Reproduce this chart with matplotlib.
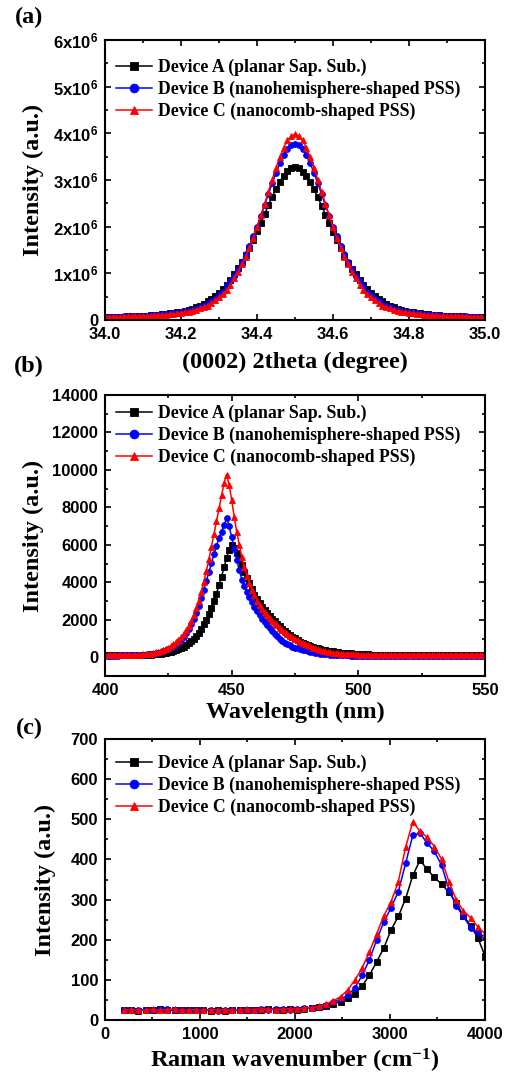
import numpy as np
import matplotlib
matplotlib.use("Agg")
import matplotlib.pyplot as plt
from matplotlib.ticker import MultipleLocator, FuncFormatter
from matplotlib.font_manager import FontProperties

plt.rcParams['mathtext.default'] = 'regular'

# ---------------- data ----------------
labels = ["Device A (planar Sap. Sub.)",
          "Device B (nanohemisphere-shaped PSS)",
          "Device C (nanocomb-shaped PSS)"]
colors = ["#000000", "#0000FF", "#FF0000"]
markers = ["s", "o", "^"]

# (a) XRD (0002) 2theta scan, 34.0 -> 35.0 deg, intensity in units of 1e6
xrd_range = (34.0, 35.0)
xrd_A = [0.062,0.064,0.066,0.068,0.070,0.073,0.076,0.079,0.082,0.086,
         0.090,0.095,0.100,0.105,0.110,0.120,0.130,0.140,0.150,0.165,
         0.180,0.200,0.220,0.240,0.270,0.310,0.350,0.400,0.450,0.510,
         0.580,0.660,0.750,0.860,0.980,1.110,1.240,1.390,1.550,1.720,
         1.900,2.080,2.270,2.460,2.640,2.810,2.960,3.090,3.190,3.250,
         3.270,
         3.250,3.180,3.080,2.950,2.800,2.630,2.450,2.260,2.070,1.890,
         1.710,1.540,1.380,1.230,1.100,0.980,0.860,0.750,0.660,0.580,
         0.510,0.450,0.400,0.350,0.310,0.270,0.240,0.220,0.200,0.180,
         0.165,0.150,0.140,0.130,0.120,0.110,0.105,0.100,0.095,0.090,
         0.086,0.082,0.079,0.076,0.073,0.070,0.068,0.066,0.064,0.062]
xrd_B = [0.068,0.069,0.070,0.072,0.074,0.076,0.078,0.081,0.084,0.087,
         0.090,0.095,0.100,0.105,0.110,0.118,0.125,0.135,0.145,0.155,
         0.170,0.180,0.200,0.220,0.240,0.270,0.300,0.350,0.400,0.460,
         0.530,0.600,0.720,0.830,0.950,1.090,1.240,1.410,1.590,1.790,
         2.000,2.230,2.460,2.700,2.930,3.150,3.360,3.530,3.670,3.750,
         3.780,
         3.750,3.670,3.530,3.360,3.150,2.930,2.700,2.460,2.230,2.000,
         1.790,1.590,1.410,1.240,1.090,0.950,0.830,0.720,0.600,0.530,
         0.460,0.400,0.350,0.300,0.270,0.240,0.220,0.200,0.180,0.170,
         0.155,0.145,0.135,0.125,0.118,0.110,0.105,0.100,0.095,0.090,
         0.087,0.084,0.081,0.078,0.076,0.074,0.072,0.070,0.069,0.068]
xrd_C = [0.071,0.072,0.073,0.074,0.075,0.076,0.078,0.080,0.082,0.084,
         0.087,0.090,0.095,0.100,0.105,0.110,0.115,0.120,0.130,0.140,
         0.150,0.165,0.180,0.200,0.220,0.250,0.270,0.310,0.360,0.420,
         0.490,0.560,0.650,0.760,0.900,1.030,1.190,1.360,1.550,1.760,
         1.990,2.240,2.490,2.750,3.010,3.260,3.490,3.690,3.850,3.940,
         3.980,
         3.940,3.850,3.690,3.490,3.260,3.010,2.750,2.490,2.240,1.990,
         1.760,1.550,1.360,1.190,1.030,0.900,0.760,0.650,0.560,0.490,
         0.420,0.360,0.310,0.270,0.250,0.220,0.200,0.180,0.165,0.150,
         0.140,0.130,0.120,0.115,0.110,0.105,0.100,0.095,0.090,0.087,
         0.084,0.082,0.080,0.078,0.076,0.075,0.074,0.073,0.072,0.071]

# (b) PL spectra, 400 -> 550 nm, 1 nm step
pl_range = (400, 550)
pl_A = [100,100,100,100,100,100,100,100,100,100,105,105,110,110,115,
        120,125,130,140,150,160,175,190,210,235,
        260,290,330,370,420,480,550,640,740,850,
        980,1130,1300,1500,1750,2000,2300,2650,3000,3400,
        3850,4300,4800,5300,5750,6000,5850,5550,5250,4900,
        4550,4250,3950,3650,3350,3100,2900,2700,2520,2350,
        2200,2050,1910,1780,1650,1530,1420,1310,1200,1100,
        1010,920,840,770,720,670,620,570,520,480,
        440,410,380,350,330,310,290,270,250,240,
        230,220,210,200,190,180,172,165,158,152,
        147,142,138,134,130,127,124,121,118,116,
        114,112,110,108,106,105,104,104,103,103,
        102,102,101,101,100,100,100,100,100,100,100,100,100,
        100,100,100,100,100,100,100,100,100,100,100,100,100]
pl_B = [90,90,90,90,90,90,95,95,95,100,100,105,110,115,120,
        130,140,155,170,190,215,245,280,320,370,
        430,500,580,680,800,940,1100,1290,1510,1760,
        2050,2380,2750,3160,3600,4070,4550,5030,5500,5950,
        6350,6700,7050,7430,7000,6400,5800,5200,4650,4150,
        3800,3500,3200,2950,2700,2450,2250,2050,1880,1740,
        1560,1400,1250,1110,980,870,780,700,630,570,
        520,480,440,400,365,330,300,270,245,220,
        200,185,170,157,145,135,125,118,112,106,
        100,96,92,88,85,82,80,78,76,75,
        74,73,72,71,70,70,70,70,70,70,
        70,70,70,70,70,70,70,70,70,70,
        70,70,70,70,70,70,70,70,70,70,70,70,70,
        70,70,70,70,70,70,70,70,70,70,70,70,70]
pl_C = [120,120,120,120,120,120,120,125,125,125,130,130,135,140,145,
        150,165,180,200,225,255,290,330,380,440,
        510,590,690,800,930,1080,1250,1450,1680,1950,
        2260,2620,3030,3500,4020,4600,5220,5880,6560,7250,
        7950,8650,9300,9750,9200,8400,7500,6700,6000,5350,
        4800,4350,3950,3600,3300,3030,2800,2600,2420,2250,
        2100,1960,1830,1700,1580,1470,1360,1260,1160,1070,
        990,910,840,770,700,640,580,520,470,420,
        380,345,315,290,265,245,228,213,200,190,
        180,172,165,158,152,147,143,139,136,133,
        131,129,127,125,124,123,122,121,121,120,
        120,120,120,120,120,120,120,120,120,120,
        120,120,120,120,120,120,120,120,120,120,120,120,120,
        120,120,120,120,120,120,120,120,120,120,120,120,120]

# (c) Raman spectra, 200 -> 4000 cm-1
raman_range = (200, 4000)
raman_A = [24,25,23,26,25,27,26,24,25,26,24,25,23,24,22,24,25,24,26,25,
           27,26,25,27,26,28,30,32,36,40,46,55,66,85,112,145,180,225,258,302,
           360,398,375,355,338,318,292,260,235,205,160]
raman_B = [26,24,25,24,26,28,27,25,26,24,25,26,25,23,24,25,26,25,25,27,
           26,27,28,26,28,29,31,33,38,44,52,62,80,112,150,200,245,280,320,390,
           460,466,440,420,385,325,285,258,230,218,207]
raman_C = [25,26,24,25,27,24,26,27,25,25,26,24,26,25,26,24,26,27,26,28,
           27,26,27,28,27,30,31,34,40,48,58,75,100,130,170,215,260,295,345,430,
           494,470,455,432,400,345,300,272,255,232,215]

# ---------------- style ----------------
SERIF = 'Liberation Serif'
SANS = 'Liberation Sans'
label_fp = FontProperties(family=SERIF, weight='bold', size=17.5)
tick_fp = FontProperties(family=SANS, weight='bold', size=12)
leg_fp = FontProperties(family=SERIF, weight='bold', size=12.8)

W, H = 506, 1074
fig = plt.figure(figsize=(W / 100, H / 100), dpi=100)


def add_ax(top_px, bottom_px, left_px=105, right_px=485):
    return fig.add_axes([left_px / W, 1 - bottom_px / H,
                         (right_px - left_px) / W, (bottom_px - top_px) / H])


def style(ax, xmaj, xmin, ymaj, ymin):
    ax.xaxis.set_major_locator(MultipleLocator(xmaj))
    ax.xaxis.set_minor_locator(MultipleLocator(xmin))
    ax.yaxis.set_major_locator(MultipleLocator(ymaj))
    ax.yaxis.set_minor_locator(MultipleLocator(ymin))
    ax.tick_params(which='both', direction='in', top=True, right=True,
                   width=1.2)
    ax.tick_params(which='major', length=4.5)
    ax.tick_params(which='minor', length=2.5)
    ax.tick_params(axis='x', which='major', pad=5)
    ax.tick_params(axis='y', which='major', pad=5)
    for sp in ax.spines.values():
        sp.set_linewidth(1.5)
    for t in ax.get_xticklabels() + ax.get_yticklabels():
        t.set_fontproperties(tick_fp)


def draw(ax, rng, series):
    for ys, c, m, lab in zip(series, colors, markers, labels):
        xs = np.linspace(rng[0], rng[1], len(ys))
        ax.plot(xs, ys, color=c, marker=m, markersize=4.2, lw=1.1,
                markeredgewidth=0.6, label=lab)


def legend(ax, anchor):
    ax.legend(loc='upper left', bbox_to_anchor=anchor, frameon=False,
              prop=leg_fp, handlelength=2.0, handletextpad=0.35,
              labelspacing=0.26, borderpad=0, borderaxespad=0,
              markerscale=1.5)


# (a)
axa = add_ax(40, 320)
draw(axa, xrd_range, [xrd_A, xrd_B, xrd_C])
axa.set_xlim(34.0, 35.0)
axa.set_ylim(0, 6)
style(axa, 0.2, 0.1, 1, 0.5)
axa.xaxis.set_major_formatter(FuncFormatter(lambda v, p: f"{v:.1f}"))
axa.yaxis.set_major_formatter(FuncFormatter(
    lambda v, p: "0" if abs(v) < 1e-9 else f"{int(round(v))}x10$^{{6}}$"))
for t in axa.get_yticklabels():
    t.set_fontproperties(tick_fp)
axa.set_xlabel("(0002) 2theta (degree)", fontproperties=label_fp, va='center')
axa.set_ylabel("Intensity (a.u.)", fontproperties=label_fp, va='center')
axa.xaxis.set_label_coords(0.5, (320 - 362) / 280)
axa.yaxis.set_label_coords((33 - 105) / 380, 0.5)
legend(axa, (0.03, 0.932))

# (b)
axb = add_ax(395, 676)
draw(axb, pl_range, [pl_A, pl_B, pl_C])
axb.set_xlim(400, 550)
axb.set_ylim(-1000, 14000)
style(axb, 50, 25, 2000, 1000)
axb.set_xlabel("Wavelength (nm)", fontproperties=label_fp, va='center')
axb.set_ylabel("Intensity (a.u.)", fontproperties=label_fp, va='center')
axb.xaxis.set_label_coords(0.5, (676 - 712) / 281)
axb.yaxis.set_label_coords((33 - 105) / 380, 0.5)
legend(axb, (0.03, 0.964))

# (c)
axc = add_ax(739, 1020)
draw(axc, raman_range, [raman_A, raman_B, raman_C])
axc.set_xlim(0, 4000)
axc.set_ylim(0, 700)
style(axc, 1000, 500, 100, 50)
axc.set_xlabel("Raman wavenumber (cm$^{-1}$)", fontproperties=label_fp, va='center')
axc.set_ylabel("Intensity (a.u.)", fontproperties=label_fp, va='center')
axc.xaxis.set_label_coords(0.5, (1020 - 1061) / 281)
axc.yaxis.set_label_coords((45 - 105) / 380, 0.5)
legend(axc, (0.03, 0.943))

# panel letters
for txt, yc in [("(a)", 17), ("(b)", 366), ("(c)", 728)]:
    fig.text(29 / W, 1 - yc / H, txt, fontproperties=label_fp,
             ha='center', va='center')

fig.savefig("out.png", dpi=100)
